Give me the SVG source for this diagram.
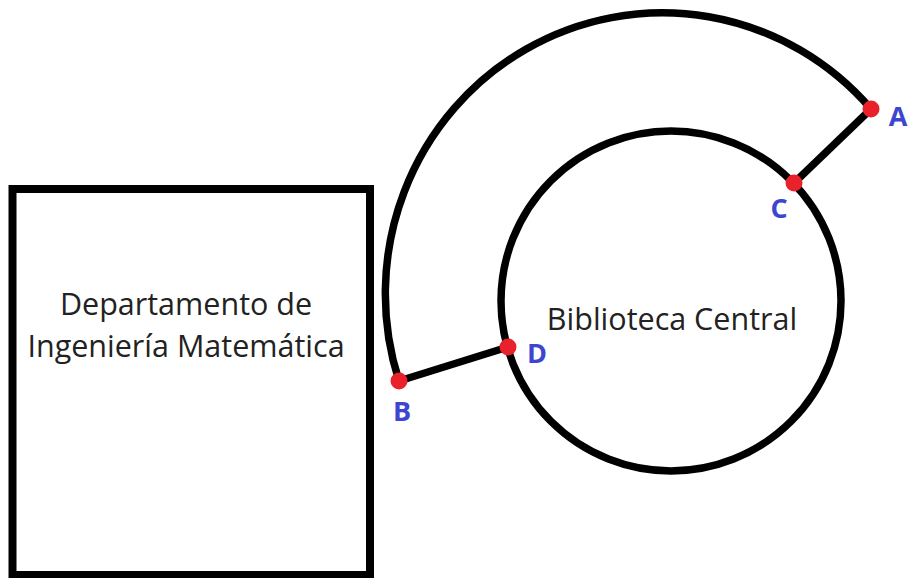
<svg xmlns="http://www.w3.org/2000/svg" width="914" height="578" viewBox="0 0 914 578">
<style>
.shape{fill:none;stroke:#000;stroke-width:7.5}
.name{font-family:"Open Sans","Noto Sans","Liberation Sans",sans-serif;font-size:30.5px;fill:#222;text-anchor:middle}
.pt{fill:#e8212b}
.lbl{font-family:"Open Sans","Noto Sans","Liberation Sans",sans-serif;font-size:27px;font-weight:bold;fill:#3d46cf;text-anchor:middle}
</style>
<rect width="914" height="578" fill="#fff"/>
<g id="departamento">
<rect class="shape" x="12.5" y="189" width="357.5" height="386" style="stroke-width:8"/>
<text class="name" x="186" y="315">Departamento de</text>
<text class="name" x="186" y="357">Ingeniería Matemática</text>
</g>
<g id="biblioteca">
<circle class="shape" cx="671" cy="301" r="170"/>
<text class="name" x="672" y="330">Biblioteca Central</text>
</g>
<g id="connectors">
<path class="shape" d="M871 109 A277 281 0 0 0 399 381"/>
<line class="shape" x1="871" y1="109" x2="794" y2="183"/>
<line class="shape" x1="399" y1="381" x2="508" y2="347"/>
</g>
<g id="pointA"><circle class="pt" cx="871" cy="109" r="8.5"/><text class="lbl" x="898" y="126">A</text></g>
<g id="pointB"><circle class="pt" cx="399" cy="381" r="8.5"/><text class="lbl" x="402" y="421">B</text></g>
<g id="pointC"><circle class="pt" cx="794" cy="183" r="8.5"/><text class="lbl" x="779" y="218">C</text></g>
<g id="pointD"><circle class="pt" cx="508" cy="347" r="8.5"/><text class="lbl" x="537" y="363">D</text></g>
</svg>
